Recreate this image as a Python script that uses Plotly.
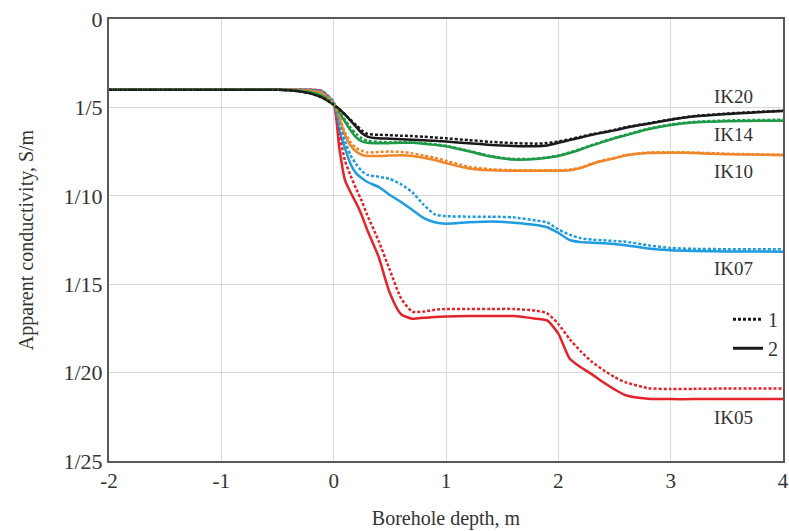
import plotly.graph_objects as go

# Borehole depth, m
depth = [-2, -1, -0.5, -0.4, -0.3, -0.2, -0.1, 0, 0.05, 0.1, 0.15, 0.2, 0.25, 0.3, 0.4, 0.5,
         0.6, 0.7, 0.8, 0.9, 1.0, 1.2, 1.4, 1.6, 1.8, 1.9, 2.0, 2.1, 2.2, 2.3, 2.4, 2.5, 2.6,
         2.8, 3.0, 3.2, 3.5, 4.0]

# Apparent resistivity (1/conductivity), Ohm*m  -- series "2" (solid) and "1" (dotted)
ik20_2 = [4.0, 4.0, 4.0, 4.03, 4.1, 4.22, 4.45, 4.85, 5.1, 5.4, 5.75, 6.1, 6.45, 6.65, 6.75, 6.77,
          6.8, 6.83, 6.86, 6.88, 6.93, 7.03, 7.12, 7.18, 7.2, 7.15, 7.0, 6.85, 6.7, 6.55, 6.42, 6.3, 6.15,
          5.92, 5.7, 5.52, 5.37, 5.2]
ik20_1 = [4.0, 4.0, 4.0, 4.03, 4.1, 4.22, 4.45, 4.85, 5.1, 5.4, 5.7, 6.0, 6.3, 6.5, 6.55, 6.57,
          6.6, 6.62, 6.66, 6.7, 6.75, 6.85, 6.95, 7.02, 7.05, 7.02, 6.93, 6.8, 6.66, 6.52, 6.4, 6.27, 6.12,
          5.9, 5.68, 5.5, 5.35, 5.18]
ik14_2 = [4.0, 4.0, 4.0, 4.02, 4.06, 4.15, 4.35, 4.85, 5.3, 5.8, 6.3, 6.7, 6.92, 7.0, 7.03, 7.02,
          7.0, 7.0, 7.05, 7.12, 7.2, 7.48, 7.78, 7.95, 7.92, 7.85, 7.75, 7.58, 7.38, 7.15, 6.95, 6.75, 6.58,
          6.24, 6.0, 5.85, 5.78, 5.75]
ik14_1 = [4.0, 4.0, 4.0, 4.02, 4.06, 4.15, 4.35, 4.85, 5.25, 5.7, 6.15, 6.5, 6.75, 6.88, 6.95, 6.97,
          6.97, 6.98, 7.02, 7.09, 7.17, 7.45, 7.75, 7.92, 7.9, 7.83, 7.72, 7.55, 7.35, 7.12, 6.92, 6.72, 6.55,
          6.2, 5.97, 5.82, 5.74, 5.7]
ik10_2 = [4.0, 4.0, 4.0, 4.0, 4.02, 4.06, 4.2, 4.8, 5.6, 6.55, 7.15, 7.5, 7.68, 7.75, 7.75, 7.72,
          7.7, 7.75, 7.85, 7.98, 8.15, 8.45, 8.56, 8.58, 8.58, 8.58, 8.58, 8.55, 8.43, 8.2, 8.02, 7.88, 7.72,
          7.58, 7.56, 7.58, 7.65, 7.7]
ik10_1 = [4.0, 4.0, 4.0, 4.0, 4.02, 4.06, 4.18, 4.78, 5.5, 6.4, 6.95, 7.3, 7.45, 7.55, 7.52, 7.5,
          7.52, 7.6, 7.72, 7.85, 8.02, 8.35, 8.5, 8.55, 8.55, 8.55, 8.55, 8.52, 8.4, 8.17, 7.99, 7.85, 7.69,
          7.55, 7.53, 7.55, 7.62, 7.67]
ik07_2 = [4.0, 4.0, 4.0, 4.0, 4.0, 4.03, 4.15, 4.75, 6.3, 7.3, 8.2, 8.73, 9.0, 9.22, 9.5, 9.95,
          10.35, 10.8, 11.25, 11.5, 11.58, 11.5, 11.45, 11.52, 11.65, 11.78, 12.1, 12.5, 12.62, 12.65, 12.68, 12.72, 12.8,
          12.98, 13.08, 13.12, 13.15, 13.16]
ik07_1 = [4.0, 4.0, 4.0, 4.0, 4.0, 4.02, 4.1, 4.7, 5.9, 6.9, 7.7, 8.2, 8.6, 8.82, 8.92, 9.05,
          9.35, 9.8, 10.5, 11.05, 11.15, 11.18, 11.18, 11.22, 11.4, 11.5, 11.9, 12.2, 12.4, 12.48, 12.52, 12.56, 12.6,
          12.8, 12.95, 13.0, 13.02, 13.03]
ik05_2 = [4.0, 4.0, 4.0, 4.0, 4.0, 4.0, 4.1, 4.8, 7.3, 9.1, 9.8, 10.4, 11.1, 11.95, 13.45, 15.5,
          16.7, 16.95, 16.9, 16.85, 16.82, 16.8, 16.8, 16.8, 16.95, 17.05, 17.8, 19.2, 19.7, 20.1, 20.55, 20.95, 21.28,
          21.48, 21.5, 21.5, 21.5, 21.5]
ik05_1 = [4.0, 4.0, 4.0, 4.0, 4.0, 4.0, 4.08, 4.75, 6.5, 8.0, 8.85, 9.6, 10.3, 11.1, 12.55, 14.2,
          15.8, 16.55, 16.55, 16.45, 16.4, 16.4, 16.4, 16.4, 16.5, 16.65, 17.25, 18.1, 18.8, 19.4, 19.85, 20.25, 20.55,
          20.88, 20.93, 20.92, 20.9, 20.9]

series_names = ["IK05", "IK07", "IK10", "IK14", "IK20"]
series_colors = ["#e3242b", "#1f9be0", "#f0862a", "#1f9a47", "#1a1a1a"]
solid_data = [ik05_2, ik07_2, ik10_2, ik14_2, ik20_2]
dotted_data = [ik05_1, ik07_1, ik10_1, ik14_1, ik20_1]

# label positions (x, y) in data units
label_x = [3.56, 3.56, 3.56, 3.56, 3.56]
label_y = [22.55, 14.1, 8.65, 6.55, 4.4]

y_ticks = [0, 5, 10, 15, 20, 25]
y_ticktext = ["0", "1/5", "1/10", "1/15", "1/20", "1/25"]
x_ticks = [-2, -1, 0, 1, 2, 3, 4]
x_ticktext = ["-2", "-1", "0", "1", "2", "3", "4"]

FONT = "Liberation Serif, Times New Roman, serif"

fig = go.Figure()
for name, col, ys in zip(series_names, series_colors, solid_data):
    fig.add_trace(go.Scatter(x=depth, y=ys, mode="lines", name=name + " 2",
                             line=dict(color=col, width=2.5, shape="spline", smoothing=0.6),
                             showlegend=False))
for name, col, ys in zip(series_names, series_colors, dotted_data):
    fig.add_trace(go.Scatter(x=depth, y=ys, mode="lines", name=name + " 1",
                             line=dict(color=col, width=2.5, dash="3px,2px", shape="spline", smoothing=0.6),
                             showlegend=False))

# legend entries
fig.add_trace(go.Scatter(x=[None], y=[None], mode="lines", name="1",
                         line=dict(color="#1a1a1a", width=3, dash="3px,2px")))
fig.add_trace(go.Scatter(x=[None], y=[None], mode="lines", name="2",
                         line=dict(color="#1a1a1a", width=3)))

for name, lx, ly in zip(series_names, label_x, label_y):
    fig.add_annotation(x=lx, y=ly, text=name, showarrow=False,
                       font=dict(family=FONT, size=19, color="#333333"))

fig.update_layout(
    width=789, height=531,
    margin=dict(l=109, r=6, t=19, b=70, autoexpand=False),
    paper_bgcolor="white", plot_bgcolor="white",
    font=dict(family=FONT, size=21, color="#333333"),
    legend=dict(x=1.0, xanchor="right", y=0.365, yanchor="top",
                bgcolor="rgba(0,0,0,0)", font=dict(family=FONT, size=20, color="#333333"),
                itemwidth=30, tracegroupgap=0),
)
fig.update_xaxes(range=[-2, 4], tickvals=x_ticks, ticktext=x_ticktext, showgrid=True, gridcolor="#d9d9d9",
                 gridwidth=1, automargin=False, ticklabeloverflow="allow",
                 showline=True, linecolor="#595959", linewidth=2, mirror=True, ticks="",
                 zeroline=False,
                 title=dict(text="Borehole depth, m", font=dict(family=FONT, size=20), standoff=19),
                 tickfont=dict(family=FONT, size=21))
fig.update_yaxes(range=[25, 0], tickvals=y_ticks, ticktext=y_ticktext, showgrid=True, gridcolor="#d9d9d9",
                 gridwidth=1, automargin=False, ticklabeloverflow="allow",
                 showline=True, linecolor="#595959", linewidth=2, mirror=True,
                 ticks="", zeroline=False,
                 title=dict(text="Apparent conductivity, S/m", font=dict(family=FONT, size=20), standoff=24),
                 tickfont=dict(family=FONT, size=22))

fig.write_html("out.html", config={"displayModeBar": False},
               post_script="document.body.style.margin='0';document.body.style.overflow='hidden';")
